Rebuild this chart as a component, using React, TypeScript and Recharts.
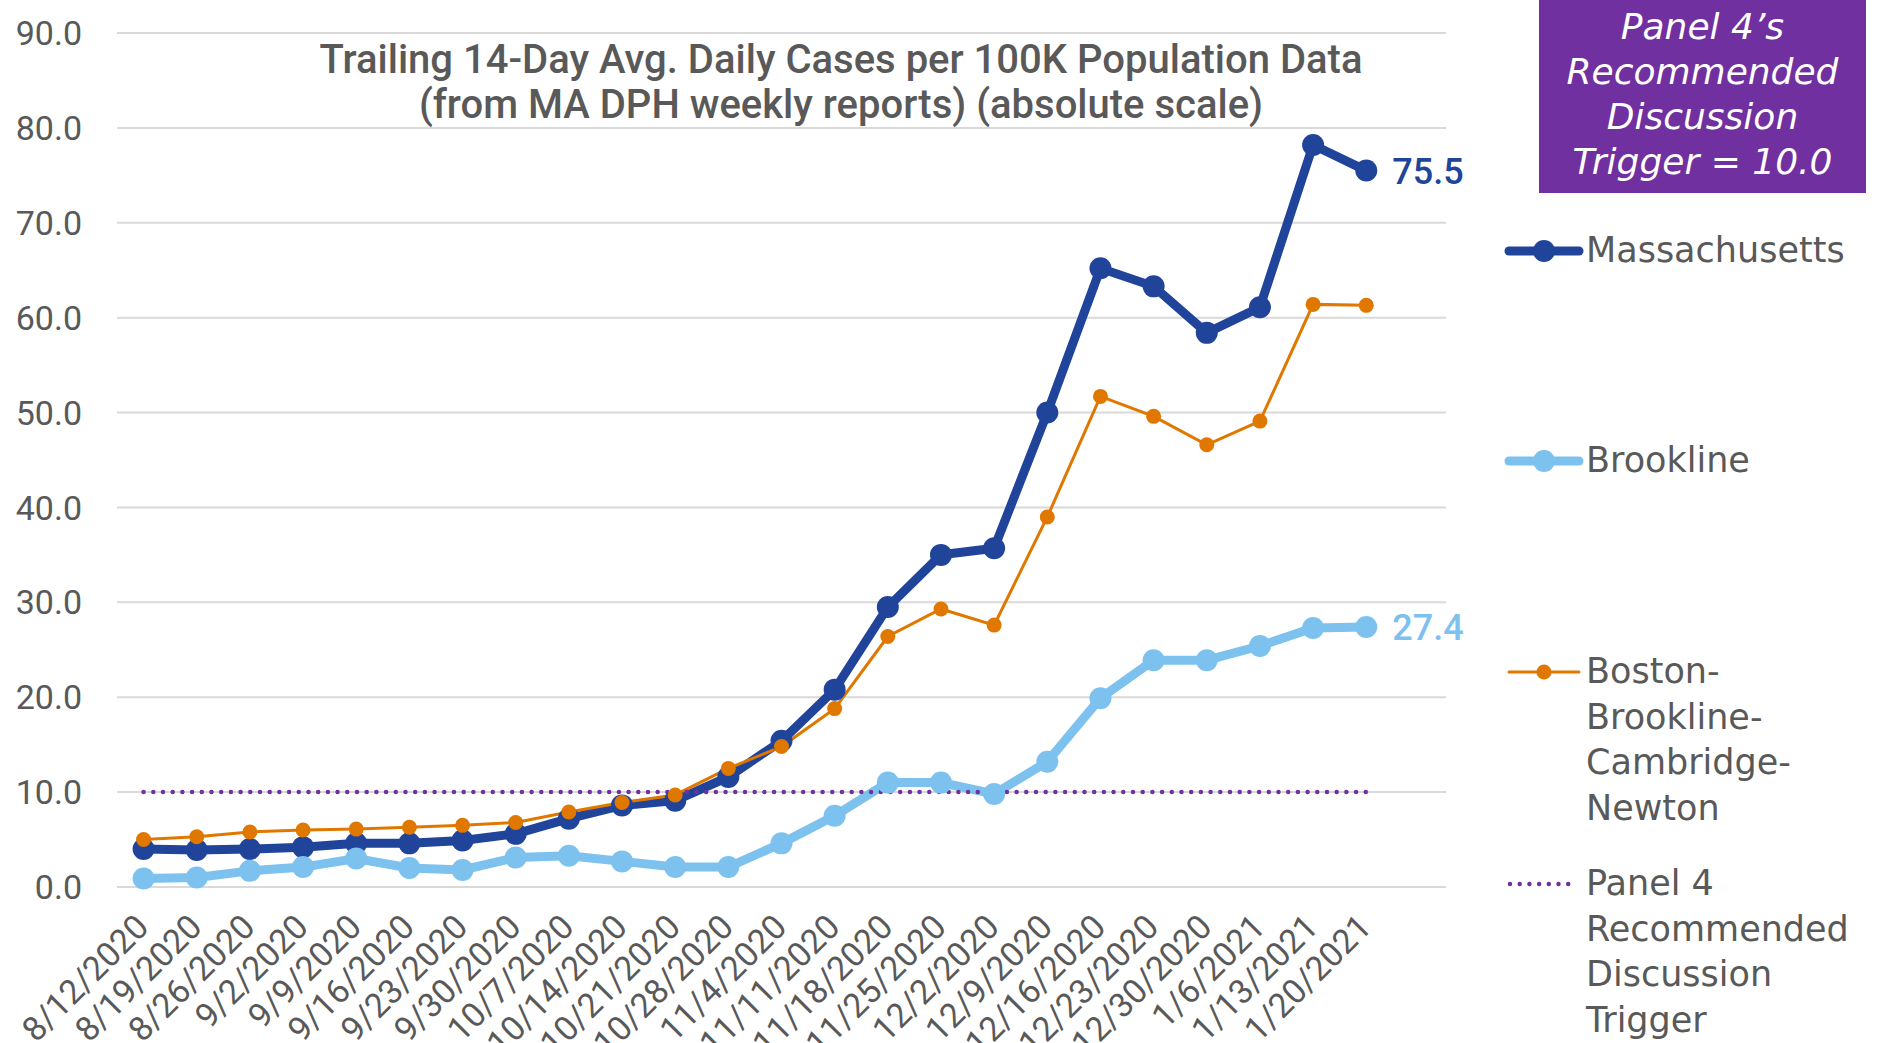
import React from 'react';
import { LineChart, Line, XAxis, YAxis, CartesianGrid, LabelList } from 'recharts';

const dates = [
  '8/12/2020', '8/19/2020', '8/26/2020', '9/2/2020', '9/9/2020', '9/16/2020',
  '9/23/2020', '9/30/2020', '10/7/2020', '10/14/2020', '10/21/2020', '10/28/2020',
  '11/4/2020', '11/11/2020', '11/18/2020', '11/25/2020', '12/2/2020', '12/9/2020',
  '12/16/2020', '12/23/2020', '12/30/2020', '1/6/2021', '1/13/2021', '1/20/2021',
];

const massachusetts = [
  4.0, 3.9, 4.0, 4.2, 4.6, 4.6, 4.9, 5.6, 7.2, 8.6, 9.1, 11.6,
  15.4, 20.8, 29.5, 35.0, 35.7, 50.0, 65.2, 63.3, 58.4, 61.1, 78.2, 75.5,
];

const brookline = [
  0.9, 1.0, 1.7, 2.1, 3.0, 2.0, 1.8, 3.1, 3.3, 2.7, 2.1, 2.1,
  4.6, 7.5, 11.0, 11.0, 9.8, 13.2, 19.9, 23.9, 23.9, 25.4, 27.3, 27.4,
];

const bbcn = [
  5.0, 5.3, 5.8, 6.0, 6.1, 6.3, 6.5, 6.8, 7.9, 8.9, 9.7, 12.5,
  14.8, 18.8, 26.4, 29.3, 27.6, 39.0, 51.7, 49.6, 46.6, 49.1, 61.4, 61.3,
];

const triggerLevel = 10.0;
const yTicks = [0, 10, 20, 30, 40, 50, 60, 70, 80, 90];

const data = dates.map((date, i) => ({
  idx: i,
  date,
  ma: massachusetts[i],
  brookline: brookline[i],
  bbcn: bbcn[i],
  trigger: triggerLevel,
}));

const GRAY = '#595959';
const DARK_BLUE = '#21449B';
const LIGHT_BLUE = '#7DC2EE';
const ORANGE = '#E07800';
const PURPLE = '#7030A0';
const TICK_FONT = 'Roboto, sans-serif';
const LEGEND_FONT = '"DejaVu Sans", sans-serif';

const DateTick = (props: any) => {
  const { x, y, payload } = props;
  const ax = x + 7;
  const ay = y + 42;
  return (
    <text
      x={ax}
      y={ay}
      transform={`rotate(-45 ${ax} ${ay})`}
      textAnchor="end"
      fill={GRAY}
      fontSize={34}
      fontFamily={TICK_FONT}
    >
      {dates[payload.value]}
    </text>
  );
};

const lastLabel = (color: string) => (props: any) => {
  const { x, y, index, value } = props;
  if (index !== dates.length - 1) return null;
  return (
    <text x={x + 26} y={y} dy="0.36em" fill={color} fontSize={36} fontWeight={500} fontFamily={TICK_FONT}>
      {Number(value).toFixed(1)}
    </text>
  );
};

const legendItems = [
  { lines: ['Massachusetts'], top: 251, kind: 'ma' },
  { lines: ['Brookline'], top: 461, kind: 'brookline' },
  { lines: ['Boston-', 'Brookline-', 'Cambridge-', 'Newton'], top: 672, kind: 'bbcn' },
  { lines: ['Panel 4', 'Recommended', 'Discussion', 'Trigger'], top: 884, kind: 'trigger' },
];

const LegendIcon = ({ kind }: { kind: string }) => {
  if (kind === 'trigger') {
    return (
      <svg width={80} height={24}>
        <line x1={6} y1={12} x2={70} y2={12} stroke={PURPLE} strokeWidth={4.5} strokeLinecap="round" strokeDasharray="0 9.7" />
      </svg>
    );
  }
  const color = kind === 'ma' ? DARK_BLUE : kind === 'brookline' ? LIGHT_BLUE : ORANGE;
  const w = kind === 'bbcn' ? 3 : 9;
  const r = kind === 'bbcn' ? 7.5 : 11;
  return (
    <svg width={80} height={24}>
      <line x1={5} y1={12} x2={75} y2={12} stroke={color} strokeWidth={w} strokeLinecap="round" />
      <circle cx={40} cy={12} r={r} fill={color} />
    </svg>
  );
};

export default function App() {
  return (
    <div style={{ position: 'relative', width: 1894, height: 1043, background: '#fff' }}>
      <style>{'body{margin:0}'}</style>
      <LineChart
        width={1894}
        height={1043}
        data={data}
        margin={{ top: 33, right: 448, bottom: 0, left: 0 }}
      >
        <CartesianGrid vertical={false} stroke="#D9D9D9" strokeWidth={2} />
        <XAxis
          dataKey="idx"
          type="number"
          domain={[-0.5, 24.5]}
          ticks={dates.map((_, i) => i)}
          interval={0}
          height={156}
          axisLine={false}
          tickLine={false}
          tickSize={0}
          tickMargin={0}
          tick={<DateTick />}
        />
        <YAxis
          domain={[0, 90]}
          ticks={yTicks}
          width={117}
          axisLine={false}
          tickLine={false}
          tickSize={0}
          tickMargin={35}
          tickFormatter={(v: number) => v.toFixed(1)}
          tick={{ fill: GRAY, fontSize: 34, fontFamily: TICK_FONT }}
        />
        <Line
          dataKey="ma"
          stroke={DARK_BLUE}
          strokeWidth={9}
          dot={{ r: 11, fill: DARK_BLUE, stroke: DARK_BLUE, strokeWidth: 0 }}
          isAnimationActive={false}
        >
          <LabelList dataKey="ma" content={lastLabel(DARK_BLUE)} />
        </Line>
        <Line
          dataKey="brookline"
          stroke={LIGHT_BLUE}
          strokeWidth={9}
          dot={{ r: 11, fill: LIGHT_BLUE, stroke: LIGHT_BLUE, strokeWidth: 0 }}
          isAnimationActive={false}
        >
          <LabelList dataKey="brookline" content={lastLabel(LIGHT_BLUE)} />
        </Line>
        <Line
          dataKey="bbcn"
          stroke={ORANGE}
          strokeWidth={3}
          dot={{ r: 7.5, fill: ORANGE, stroke: ORANGE, strokeWidth: 0 }}
          isAnimationActive={false}
        />
        <Line
          dataKey="trigger"
          stroke={PURPLE}
          strokeWidth={4.5}
          strokeLinecap="round"
          strokeDasharray="0 9.7"
          dot={false}
          isAnimationActive={false}
        />
      </LineChart>

      <div
        style={{
          position: 'absolute', left: 241, top: 37, width: 1200, textAlign: 'center',
          color: GRAY, fontFamily: TICK_FONT, fontSize: 40, fontWeight: 500, lineHeight: '45px',
        }}
      >
        <div>Trailing 14-Day Avg. Daily Cases per 100K Population Data</div>
        <div>(from MA DPH weekly reports) (absolute scale)</div>
      </div>

      <div
        style={{
          position: 'absolute', left: 1539, top: 0, width: 327, height: 193, background: PURPLE,
          color: '#fff', fontFamily: LEGEND_FONT, fontStyle: 'italic', fontSize: 36,
          lineHeight: '45px', textAlign: 'center', paddingTop: 4, boxSizing: 'border-box',
        }}
      >
        <div>Panel 4’s</div>
        <div>Recommended</div>
        <div>Discussion</div>
        <div>Trigger = 10.0</div>
      </div>

      {legendItems.map((item) => (
        <div key={item.kind} style={{ position: 'absolute', left: 1504, top: item.top - 23 }}>
          <div style={{ position: 'absolute', left: 0, top: 11 }}>
            <LegendIcon kind={item.kind} />
          </div>
          <div
            style={{
              position: 'absolute', left: 82, top: 0, whiteSpace: 'nowrap', color: GRAY,
              fontFamily: LEGEND_FONT, fontSize: 35, lineHeight: '45.7px',
            }}
          >
            {item.lines.map((l) => (
              <div key={l}>{l}</div>
            ))}
          </div>
        </div>
      ))}
    </div>
  );
}
